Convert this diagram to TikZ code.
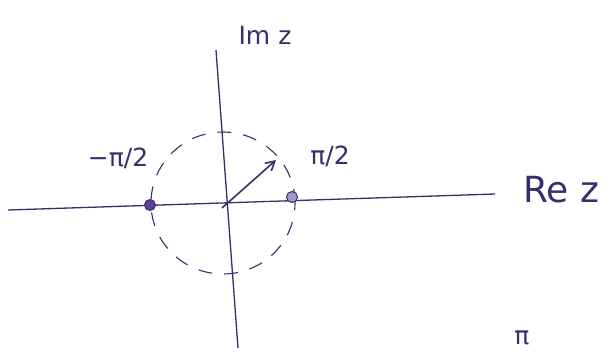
\documentclass[tikz,border=0pt]{standalone}
\usepackage{fontspec}
\setmainfont{DejaVu Sans}
\usetikzlibrary{arrows.meta}
\definecolor{ink}{rgb}{0.22,0.18,0.42}
\definecolor{dotc}{rgb}{0.36,0.26,0.62}
\begin{document}
\begin{tikzpicture}[x=1pt,y=-1pt,
  axis/.style={draw=ink,line width=1.3pt},
  circ/.style={draw=ink,line width=1.1pt,dash pattern=on 14pt off 12pt},
  lbl/.style={text=ink,font=\fontsize{25}{28}\selectfont,inner sep=0pt},
  pt/.style={circle,fill=dotc,draw=ink,line width=1pt,minimum size=11pt,inner sep=0pt}]
\useasboundingbox (0,0) rectangle (609,351);
\fill[white] (0,0) rectangle (609,351);
% axes
\coordinate (xl) at (8,210);
\coordinate (xr) at (495,194);
\coordinate (yt) at (216,50);
\coordinate (yb) at (238,348);
\coordinate (o) at (223,203);
\draw[axis] (xl) -- (xr);
\draw[axis] (yt) -- (yb);
% dashed circle
\draw[circ] (o) ellipse [x radius=72pt, y radius=71pt];
% points
\node[pt] (m) at (150,205) {};
\node[pt,fill=dotc!55] (p) at (292,197) {};
% arrow
\coordinate (a0) at (222,208);
\coordinate (a1) at (276,160);
\draw[ink,line width=1.6pt,-{Straight Barb[length=9pt,width=10pt]}] (a0) -- (a1);
% labels
\node[lbl] (lm) at (118,158) {−π/2};
\node[lbl] (lp) at (330,156) {π/2};
\node[lbl] (im) at (265,35) {Im z};
\node[lbl,font=\fontsize{36}{38}\selectfont] (re) at (561,190) {Re z};
\node[lbl] (pi) at (522,338) {π};
\end{tikzpicture}
\end{document}
